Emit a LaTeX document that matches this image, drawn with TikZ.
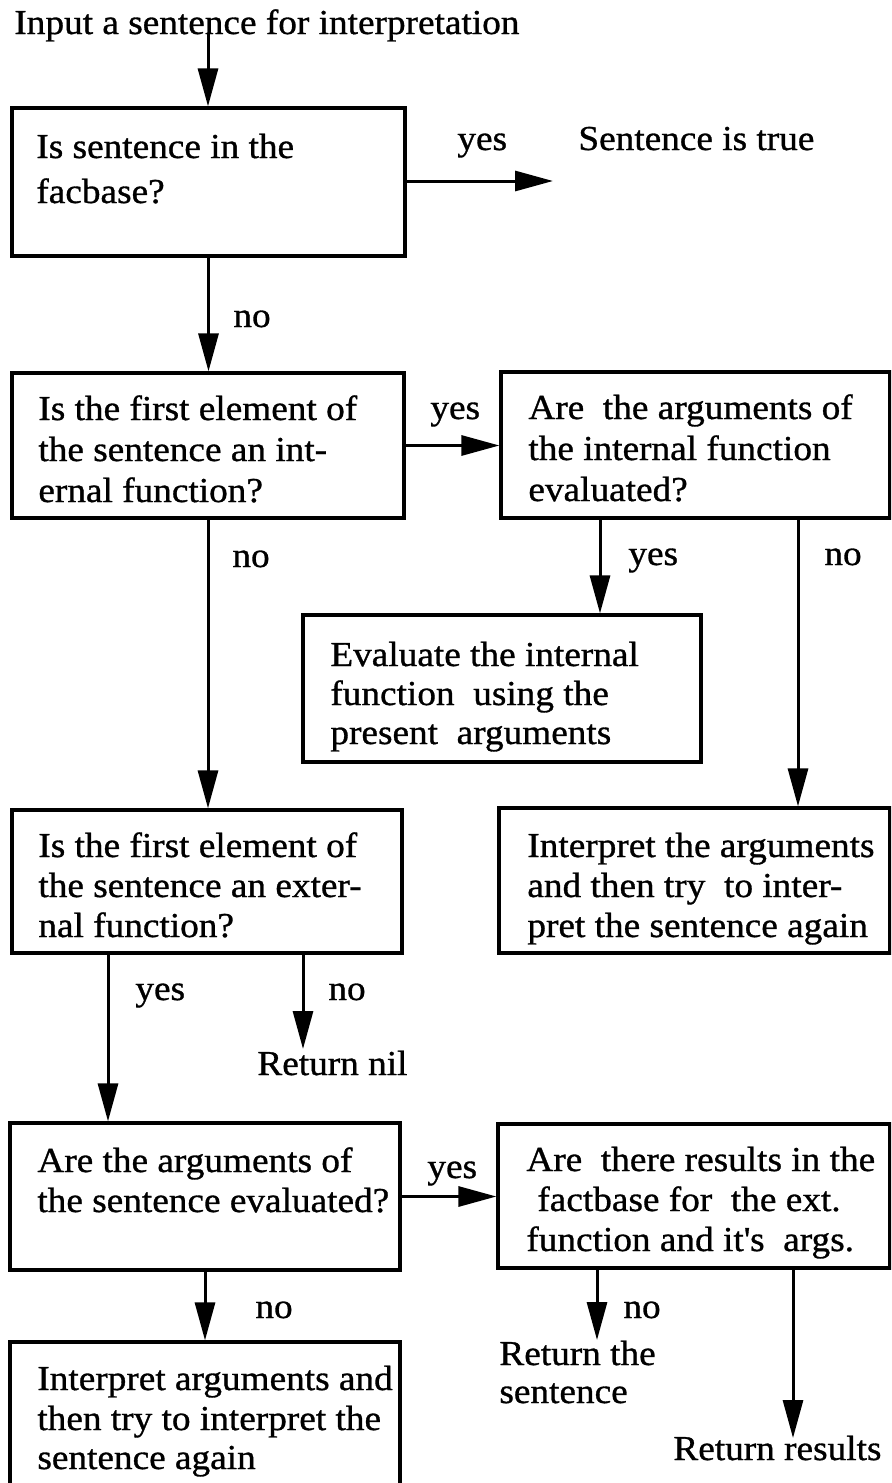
\documentclass[tikz,border=0pt]{standalone}
\usepackage{fontspec}
\setmainfont[FakeStretch=1.065,FakeBold=0.9]{Liberation Serif}
\usetikzlibrary{arrows.meta,fit}
% multi-line text whose baseline is the first line
\newcommand\rows[1]{\begin{tabular}[t]{@{}l@{}}#1\end{tabular}}

\begin{document}
\begin{tikzpicture}[x=0.5pt,y=-0.5pt,
  box/.style={draw,line width=1.6pt,inner sep=0pt},
  txt/.style={anchor=base west,inner sep=0pt,font=\fontsize{17.5}{20.5}\selectfont},
  arr/.style={line width=1.5pt,-{Triangle[length=19pt,width=10pt]}}]
\useasboundingbox (0,0) rectangle (891,1483);
\clip (0,0) rectangle (891,1483);

% ---- boxes
\node[box, fit={(12,108) (405,256)}]   (b1) {};
\node[box, fit={(12,373) (404,518)}]   (b2) {};
\node[box, fit={(501,372) (890,518)}]  (b3) {};
\node[box, fit={(303,615) (701,762)}]  (b4) {};
\node[box, fit={(12,810) (402,953)}]   (b5) {};
\node[box, fit={(499,808) (890,953)}]  (b6) {};
\node[box, fit={(10,1123) (400,1270)}] (b7) {};
\node[box, fit={(10,1342) (400,1520)}] (b8) {};
\node[box, fit={(498,1124) (890,1268)}] (b9) {};

% ---- texts inside the boxes
\node[txt] (t1) at (36,158) {\rows{Is sentence in the\\[2pt]facbase?}};
\node[txt] (t2) at (38,420) {\rows{Is the first element of\\the sentence an int-\\ernal function?}};
\node[txt] (t3) at (528,419) {\rows{Are\ \ the arguments of\\the internal function\\evaluated?}};
\node[txt] (t4) at (330,666) {\rows{Evaluate the internal\\[-1pt]function\ \ using the\\[-1pt]present\ \ arguments}};
\node[txt] (t5) at (38,857) {\rows{Is the first element of\\[-0.5pt]the sentence an exter-\\[-0.5pt]nal function?}};
\node[txt] (t6) at (527,857) {\rows{Interpret the arguments\\[-0.5pt]and then try\ \ to inter-\\[-0.5pt]pret the sentence again}};
\node[txt] (t7) at (37,1172) {\rows{Are the arguments of\\[-0.5pt]the sentence evaluated?}};
\node[txt] (t8) at (37,1390) {\rows{Interpret arguments and\\[-0.5pt]then try to interpret the\\[-1pt]sentence again}};
\node[txt] (t9) at (526,1171) {\rows{Are\ \ there results in the\\[-0.5pt]\hspace*{5.5pt}factbase for\ \ the ext.\\[-0.5pt]function and it\textquotesingle s\ \ args.}};

% ---- free texts
\node[txt] (input) at (14,34) {Input a sentence for interpretation};
\node[txt] (true) at (578,150) {Sentence is true};
\node[txt] (nil) at (257,1075) {Return nil};
\node[txt] (rsent) at (499,1365) {\rows{Return the\\[-1.5pt]sentence}};
\node[txt] (rres) at (673,1460) {Return results};

% ---- branch labels
\node[txt] (l1y) at (457,150) {yes};
\node[txt] (l1n) at (233,327) {no};
\node[txt] (l2y) at (430,419) {yes};
\node[txt] (l2n) at (232,567) {no};
\node[txt] (l3y) at (628,565) {yes};
\node[txt] (l3n) at (824,565) {no};
\node[txt] (l5y) at (135,1000) {yes};
\node[txt] (l5n) at (328,1000) {no};
\node[txt] (l7y) at (427,1178) {yes};
\node[txt] (l7n) at (255,1318) {no};
\node[txt] (l9n) at (623,1318) {no};

% ---- connector ends and columns
\coordinate (c0)  at (208,33);
\coordinate (ct)  at (553,181);
\coordinate (c3y) at (600,0);
\coordinate (c3n) at (798,0);
\coordinate (c5y) at (108,0);
\coordinate (cnil) at (303,1049);
\coordinate (cts) at (597,1340);
\coordinate (ctr) at (793,1438);

% ---- connectors
\draw[arr] (c0) -- (c0 |- b1.north);
\draw[arr] (b1.east |- ct) -- (ct);
\draw[arr] (b1.south) -- (b1.south |- b2.north);
\draw[arr] (b2.east) -- (b3.west |- b2.east);
\draw[arr] (c3y |- b3.south) -- (c3y |- b4.north);
\draw[arr] (c3n |- b3.south) -- (c3n |- b6.north);
\draw[arr] (b2.south) -- (b2.south |- b5.north);
\draw[arr] (c5y |- b5.south) -- (c5y |- b7.north);
\draw[arr] (cnil |- b5.south) -- (cnil);
\draw[arr] (b7.east) -- (b9.west |- b7.east);
\draw[arr] (b7.south) -- (b7.south |- b8.north);
\draw[arr] (cts |- b9.south) -- (cts);
\draw[arr] (ctr |- b9.south) -- (ctr);
\end{tikzpicture}
\end{document}
